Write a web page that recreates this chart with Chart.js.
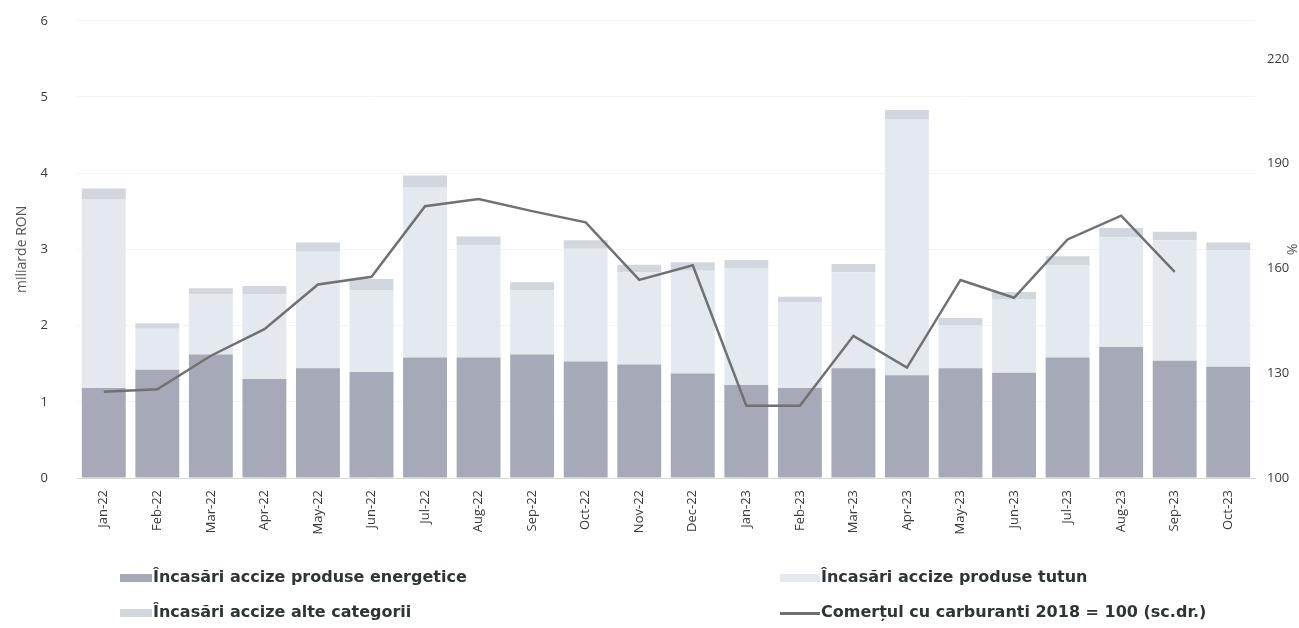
<!DOCTYPE html>
<html>
<head>
<meta charset="utf-8">
<script src="https://cdn.jsdelivr.net/npm/chart.js@4.4.1/dist/chart.umd.min.js"></script>
<style>
  body { margin: 0; background: #fff; }
  #wrap { position: relative; width: 1299px; height: 628px; overflow: hidden; }
  #c { position: absolute; left: 0; top: -16px; }
  .leg { position: absolute; font: bold 16px "DejaVu Sans", sans-serif; color: #2f3535; white-space: nowrap; }
  .sw { position: absolute; }
</style>
</head>
<body>
<div id="wrap">
  <canvas id="c" width="1299" height="628"></canvas>
</div>
<script>
// categories
const months = ["Jan-22","Feb-22","Mar-22","Apr-22","May-22","Jun-22","Jul-22","Aug-22","Sep-22","Oct-22","Nov-22","Dec-22",
                "Jan-23","Feb-23","Mar-23","Apr-23","May-23","Jun-23","Jul-23","Aug-23","Sep-23","Oct-23"];
// miliarde RON
const energetice = [1.18,1.42,1.62,1.30,1.44,1.39,1.58,1.58,1.62,1.53,1.49,1.37,1.22,1.18,1.44,1.35,1.44,1.38,1.58,1.72,1.54,1.46];
const tutun      = [2.48,0.54,0.79,1.11,1.53,1.07,2.24,1.47,0.84,1.48,1.21,1.35,1.53,1.13,1.26,3.36,0.56,0.97,1.21,1.44,1.58,1.53];
const alte       = [0.14,0.07,0.08,0.11,0.12,0.15,0.15,0.12,0.11,0.11,0.10,0.11,0.11,0.07,0.11,0.12,0.10,0.09,0.12,0.12,0.11,0.10];
// Comertul cu carburanti, 2018 = 100 (sc.dr.)
const carburanti = [124.7,125.4,135,142.6,155.4,157.6,177.8,179.9,176.4,173.2,156.7,160.9,120.7,120.7,140.7,131.6,156.7,151.6,168.3,175.1,159.0,null];
const leftTicks = [0,1,2,3,4,5,6];
const rightTicks = [100,130,160,190,220];

const C_EN = "#a6a9b7", C_TU = "#e4e9ef", C_AL = "#d2d7de", C_LINE = "#6f7173";

new Chart(document.getElementById("c"), {
  data: {
    labels: months,
    datasets: [
      { type: "line", label: "Comerțul cu carburanti 2018 = 100 (sc.dr.)", data: carburanti, yAxisID: "y1",
        borderColor: C_LINE, borderWidth: 2.5, pointRadius: 0, tension: 0, order: 0 },
      { type: "bar", label: "Încasări accize produse energetice", data: energetice, backgroundColor: C_EN, stack: "s", order: 1 },
      { type: "bar", label: "Încasări accize produse tutun", data: tutun, backgroundColor: C_TU, stack: "s", order: 1 },
      { type: "bar", label: "Încasări accize alte categorii", data: alte, backgroundColor: C_AL, stack: "s", order: 1 }
    ]
  },
  options: {
    responsive: false,
    animation: false,
    layout: { padding: { top: 0, bottom: 74, left: 14, right: 0 } },
    plugins: { legend: { display: false }, tooltip: { enabled: false } },
    datasets: { bar: { categoryPercentage: 1, barPercentage: 0.82 } },
    scales: {
      x: {
        stacked: true,
        grid: { display: false },
        border: { color: "#d9d9d9" },
        ticks: { maxRotation: 90, minRotation: 90, font: { family: "Open Sans", size: 13 }, color: "#3a3a3a", padding: 4 },
        afterFit: (s) => { s.height = 60; }
      },
      y: {
        stacked: true, position: "left", min: 0, max: 6,
        afterBuildTicks: (s) => { s.ticks = leftTicks.map(v => ({ value: v })); },
        grid: { color: "rgba(0,0,0,0.045)", drawTicks: false },
        border: { display: false },
        ticks: { padding: 29, font: { family: "Open Sans", size: 13 }, color: "#3a3a3a" },
        title: { display: true, text: "miliarde RON", font: { family: "Open Sans", size: 14 }, color: "#555", padding: 0 },
        afterFit: (s) => { s.width = 63; }
      },
      y1: {
        position: "right", min: 100, max: 230.9,
        afterBuildTicks: (s) => { s.ticks = rightTicks.map(v => ({ value: v })); },
        grid: { display: false, drawTicks: false },
        border: { display: false },
        ticks: { padding: 12, font: { family: "Open Sans", size: 13 }, color: "#3a3a3a" },
        title: { display: true, text: "%", font: { family: "Open Sans", size: 14 }, color: "#555", padding: 0 },
        afterFit: (s) => { s.width = 44; }
      }
    }
  }
});

// legend
const legendItems = [
  { text: "Încasări accize produse energetice", color: C_EN, x: 120, y: 578, w: 32, line: false },
  { text: "Încasări accize alte categorii", color: C_AL, x: 120, y: 613, w: 32, line: false },
  { text: "Încasări accize produse tutun", color: C_TU, x: 780, y: 578, w: 40, line: false },
  { text: "Comerțul cu carburanti 2018 = 100 (sc.dr.)", color: C_LINE, x: 780, y: 613, w: 40, line: true }
];
const wrap = document.getElementById("wrap");
legendItems.forEach(it => {
  const sw = document.createElement("div");
  sw.className = "sw";
  const h = it.line ? 3 : 8;
  sw.style.cssText = `left:${it.x}px;top:${it.y - h / 2}px;width:${it.w}px;height:${h}px;background:${it.color}`;
  wrap.appendChild(sw);
  const t = document.createElement("div");
  t.className = "leg";
  t.textContent = it.text;
  t.style.left = (it.x + it.w + 1) + "px";
  t.style.top = (it.y - 11) + "px";
  wrap.appendChild(t);
});
</script>
</body>
</html>
